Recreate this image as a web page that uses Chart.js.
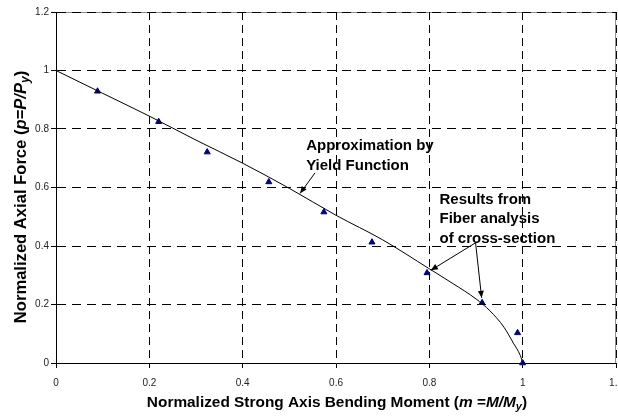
<!DOCTYPE html>
<html><head><meta charset="utf-8">
<script src="https://cdn.jsdelivr.net/npm/chart.js@4.4.1/dist/chart.umd.min.js"></script>
<style>
html,body{margin:0;padding:0;background:#fff;overflow:hidden;}
#wrap{width:618px;height:417px;overflow:hidden;position:relative;background:#fff;}
canvas{display:block;}
</style></head><body>
<div id="wrap"><canvas id="c" width="632" height="417"></canvas></div>
<script>
// ---- data ----
const xTickValues = [0, 0.2, 0.4, 0.6, 0.8, 1, 1.2];
const yTickValues = [0, 0.2, 0.4, 0.6, 0.8, 1, 1.2];
// Yield function approximation (curve)
const yieldM = [0, 0.1, 0.2, 0.3, 0.4, 0.5, 0.6, 0.7, 0.8, 0.85, 0.9, 0.93, 0.96, 0.98, 0.995, 1.0];
const yieldP = [1, 0.922, 0.844, 0.762, 0.683, 0.597, 0.505, 0.421, 0.322, 0.272, 0.219, 0.178, 0.122, 0.068, 0.025, 0];
// Fiber analysis results (triangles)
const fiberM = [0.089, 0.220, 0.324, 0.456, 0.574, 0.677, 0.795, 0.913, 0.989, 1.0];
const fiberP = [0.929, 0.825, 0.721, 0.619, 0.516, 0.413, 0.308, 0.206, 0.103, 0];

const FONT = 'Arial, "Liberation Sans", Helvetica, sans-serif';

const xTitle = [
  {t:'Normalized Strong Axis Bending Moment (', f:'bold'},
  {t:'m', f:'italic bold'}, {t:' =', f:'bold'}, {t:'M/M', f:'italic bold'},
  {t:'y', f:'italic bold', sub:true}, {t:')', f:'bold'}
];
const yTitle = [
  {t:'Normalized Axial Force (', f:'bold'},
  {t:'p', f:'italic bold'}, {t:'=P/P', f:'italic bold'},
  {t:'y', f:'italic bold', sub:true}, {t:')', f:'bold'}
];

const notes = [
  {lines:['Approximation by','Yield Function'], m:0.536, p:0.7275, from:[0.555,0.650], to:[[0.523,0.580]]},
  {lines:['Results from','Fiber analysis','of cross-section'], m:0.8217, p:0.544, from:[0.899,0.411], to:[[0.8031,0.317],[0.912,0.223]]}
];

const fmt = v => String(Math.round(v*10)/10);

function richWidth(ctx, segs, size){
  let w = 0;
  for (const s of segs){ ctx.font = s.f + ' ' + (s.sub ? size*0.72 : size) + 'px ' + FONT; w += ctx.measureText(s.t).width; }
  return w;
}
function drawRich(ctx, segs, size){
  let w = richWidth(ctx, segs, size);
  let x = -w/2;
  ctx.textBaseline = 'middle'; ctx.textAlign = 'left'; ctx.fillStyle = '#000';
  for (const s of segs){
    const sz = s.sub ? size*0.72 : size;
    ctx.font = s.f + ' ' + sz + 'px ' + FONT;
    ctx.fillText(s.t, x, s.sub ? 4 : 0);
    x += ctx.measureText(s.t).width;
  }
}

const framePlugin = {
  id:'frame',
  beforeDraw(chart){
    const {ctx, chartArea:a} = chart;
    ctx.save();
    ctx.strokeStyle = '#8c8c8c'; ctx.lineWidth = 1;
    ctx.beginPath();
    ctx.moveTo(a.left, a.top + 0.5); ctx.lineTo(a.right - 0.5, a.top + 0.5); ctx.lineTo(a.right - 0.5, a.bottom);
    ctx.stroke();
    ctx.restore();
  },
  afterDraw(chart){
    const {ctx, chartArea:a, scales} = chart;
    const xs = scales.x, ys = scales.y;
    ctx.save();
    // axis titles
    ctx.save(); ctx.translate(337, 402.5); drawRich(ctx, xTitle, 15.4); ctx.restore();
    ctx.save(); ctx.translate(21.5, 197); ctx.rotate(-Math.PI/2); drawRich(ctx, yTitle, 16.6); ctx.restore();
    // annotations
    for (const n of notes){
      ctx.font = 'bold 15px ' + FONT; ctx.fillStyle = '#000'; ctx.textAlign = 'left'; ctx.textBaseline = 'alphabetic';
      const x0 = xs.getPixelForValue(n.m), y0 = ys.getPixelForValue(n.p);
      n.lines.forEach((l,i)=> ctx.fillText(l, x0, y0 + i*19.5));
      const fx = xs.getPixelForValue(n.from[0]), fy = ys.getPixelForValue(n.from[1]);
      for (const t of n.to){
        const tx = xs.getPixelForValue(t[0]), ty = ys.getPixelForValue(t[1]);
        ctx.strokeStyle = '#000'; ctx.lineWidth = 1;
        ctx.beginPath(); ctx.moveTo(fx, fy); ctx.lineTo(tx, ty); ctx.stroke();
        const ang = Math.atan2(ty - fy, tx - fx), L = 7, W = 3;
        ctx.beginPath();
        ctx.moveTo(tx, ty);
        ctx.lineTo(tx - L*Math.cos(ang) + W*Math.sin(ang), ty - L*Math.sin(ang) - W*Math.cos(ang));
        ctx.lineTo(tx - L*Math.cos(ang) - W*Math.sin(ang), ty - L*Math.sin(ang) + W*Math.cos(ang));
        ctx.closePath(); ctx.fillStyle = '#000'; ctx.fill();
      }
    }
    ctx.restore();
  }
};

new Chart(document.getElementById('c'), {
  type:'scatter',
  data:{
    datasets:[
      {label:'Approximation by Yield Function', data: yieldM.map((m,i)=>({x:m, y:yieldP[i]})),
       showLine:true, borderColor:'#000', borderWidth:1, pointRadius:0, cubicInterpolationMode:'monotone', fill:false, clip:false},
      {label:'Results from Fiber analysis', data: fiberM.map((m,i)=>({x:m, y:fiberP[i]})),
       pointStyle:'triangle', pointRadius:3.5, backgroundColor:'#000080', borderColor:'#000080', borderWidth:1, clip:false}
    ]
  },
  options:{
    responsive:false, animation:false, devicePixelRatio:1,
    layout:{padding:{left:0, top:12, right:0, bottom:0}},
    plugins:{legend:{display:false}, tooltip:{enabled:false}},
    scales:{
      x:{type:'linear', min:0, max:1.2,
         afterBuildTicks: s => { s.ticks = xTickValues.map(v=>({value:v})); },
         afterFit: s => { s.height = 54; },
         ticks:{font:{family:FONT, size:10}, color:'#222', padding:9, maxRotation:0, autoSkip:false, callback: v => fmt(v)},
         grid:{color:'#000', lineWidth:1, tickLength:5, tickColor:'#000'},
         border:{display:true, color:'#000', width:1, dash:[8,5]},
         title:{display:false}},
      y:{type:'linear', min:0, max:1.2,
         afterBuildTicks: s => { s.ticks = yTickValues.map(v=>({value:v})); },
         afterFit: s => { s.width = 56; },
         ticks:{font:{family:FONT, size:10}, color:'#222', padding:2, callback: v => fmt(v)},
         grid:{color:'#000', lineWidth:1, tickLength:5, tickColor:'#000'},
         border:{display:true, color:'#000', width:1, dash:[9,6]},
         title:{display:false}}
    }
  },
  plugins:[framePlugin]
});
</script>
</body></html>
